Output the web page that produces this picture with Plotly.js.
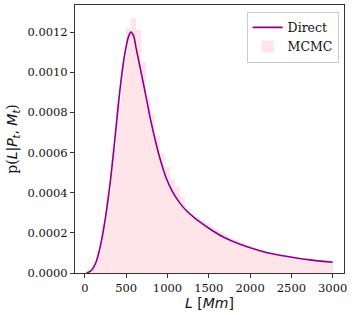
<!DOCTYPE html>
<html>
<head>
<meta charset="utf-8">
<script src="https://cdn.plot.ly/plotly-3.0.1.min.js"></script>
<style>
html,body{margin:0;padding:0;background:#fff;}
#chart{width:357px;height:315px;}
</style>
</head>
<body>
<div id="chart"></div>
<script>
// Direct curve
const directL = [20, 80, 140, 200, 250, 300, 350, 400, 450, 500, 530, 557, 590, 620, 660, 700, 747, 795, 848, 908, 989, 1060, 1150, 1230, 1312, 1400, 1514, 1675, 1877, 2119, 2300, 2523, 2750, 3000];
const directP = [0, 0.000014, 0.00006, 0.00016, 0.00028, 0.00043, 0.000615, 0.00082, 0.001, 0.00113, 0.00118, 0.0012, 0.00118, 0.00112, 0.00104, 0.00096, 0.000864, 0.000764, 0.000668, 0.000572, 0.000468, 0.000405, 0.000348, 0.00031, 0.00028, 0.000252, 0.000219, 0.000179, 0.000143, 0.000111, 0.000093, 0.000077, 0.000064, 0.0000535];

// MCMC histogram (density), 50 bins
const binStart = 20;
const binWidth = 59.6;
const mcmcDensity = [0.00001, 0.00004, 0.00011, 0.00024, 0.0004, 0.00062, 0.00085, 0.00105, 0.00122, 0.00127,
  0.00121, 0.00105, 0.00087, 0.00079, 0.00068, 0.0006, 0.00053, 0.00047, 0.00043, 0.00038,
  0.00032, 0.0003, 0.00028, 0.000265, 0.00025, 0.000231, 0.00022, 0.000205, 0.00019, 0.000175,
  0.000165, 0.000155, 0.000145, 0.000135, 0.000125, 0.000118, 0.00011, 0.000105, 0.0001, 0.000094,
  0.00009, 0.000085, 0.00008, 0.000076, 0.000072, 0.000069, 0.000066, 0.000064, 0.000061, 0.000058];

const yTicks = [0, 0.0002, 0.0004, 0.0006, 0.0008, 0.0010, 0.0012];
const xTicks = [0, 500, 1000, 1500, 2000, 2500, 3000];

const binCenters = mcmcDensity.map((_, i) => binStart + binWidth * (i + 0.5));

const serif = '"DejaVu Serif", serif';
const sans = '"DejaVu Sans", sans-serif';

const traces = [
  {
    type: 'bar', x: binCenters, y: mcmcDensity, width: binWidth,
    name: 'MCMC',
    marker: {color: 'rgba(255,192,203,0.42)', line: {width: 0}},
    hoverinfo: 'skip'
  },
  {
    type: 'scatter', mode: 'lines', x: directL, y: directP,
    name: 'Direct',
    line: {color: '#8B008B', width: 1.6, shape: 'spline', smoothing: 1}
  }
];

const axisCommon = {
  showline: true, mirror: true, linecolor: '#333', linewidth: 1,
  ticks: 'outside', ticklen: 4, tickcolor: '#333', tickwidth: 1,
  showgrid: false, zeroline: false,
  tickfont: {family: serif, size: 11.5, color: '#111'}
};

const layout = {
  width: 357, height: 315,
  margin: {l: 75, r: 13, t: 5, b: 42},
  paper_bgcolor: '#fff', plot_bgcolor: '#fff',
  bargap: 0,
  showlegend: true,
  legend: {
    x: 0.98, y: 0.975, xanchor: 'right', yanchor: 'top',
    bgcolor: '#fff', bordercolor: '#ccc', borderwidth: 1,
    font: {family: serif, size: 12.5, color: '#111'},
    traceorder: 'reversed'
  },
  xaxis: Object.assign({}, axisCommon, {
    range: [-120, 3137],
    tickvals: xTicks, ticktext: xTicks.map(String),
    title: {text: '<i>L</i> [<i>Mm</i>]', font: {family: sans, size: 14, color: '#111'}, standoff: 4}
  }),
  yaxis: Object.assign({}, axisCommon, {
    range: [0, 0.001335],
    tickvals: yTicks, ticktext: yTicks.map(v => v.toFixed(4)),
    title: {text: 'p(<span style="font-family:DejaVu Sans"><i>L</i>|<i>P</i><sub><i>t</i></sub>, <i>M</i><sub><i>t</i></sub></span>)', font: {family: serif, size: 14, color: '#111'}, standoff: 6}
  })
};

Plotly.newPlot('chart', traces, layout, {displayModeBar: false, staticPlot: true});
</script>
</body>
</html>
